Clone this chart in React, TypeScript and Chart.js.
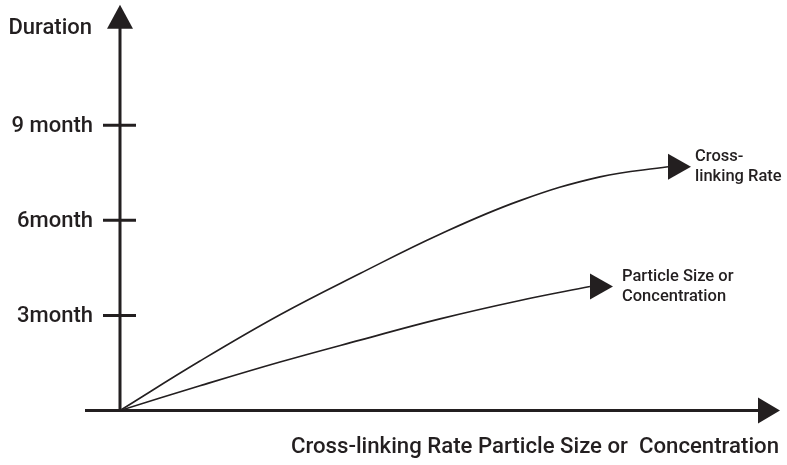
import React, { useEffect, useRef } from "react";
import { Chart, registerables } from "chart.js";

Chart.register(...registerables);

// ---- data ----
const crossLinkX = [0, 1.333, 2.667, 4, 5.333, 6.667, 8, 9.133];
const crossLinkY = [0, 1.56, 3.02, 4.32, 5.56, 6.62, 7.37, 7.69];
const particleX = [0, 1.333, 2.667, 4, 5.333, 6.667, 7.833];
const particleY = [0, 0.78, 1.53, 2.22, 2.89, 3.47, 3.91];
const tickValues = [3, 6, 9];
const tickLabels = ["3month", "6month", "9 month"];
const yTitle = "Duration";
const xTitle = "Cross-linking Rate Particle Size or  Concentration";
const crossLinkLabel = ["Cross-", "linking Rate"];
const particleLabel = ["Particle Size or", "Concentration"];
const X_MAX = 11;
const Y_MAX = 12.8;

const INK = "#231f20";
const FONT = "Roboto, 'Noto Sans', sans-serif";

const schematicPlugin = {
  id: "schematic",
  beforeDatasetsDraw(chart: any) {
    const { ctx } = chart;
    const xs = chart.scales.x;
    const ys = chart.scales.y;
    const x0 = xs.getPixelForValue(0);
    const y0 = ys.getPixelForValue(0);
    const yTop = ys.getPixelForValue(Y_MAX);
    const xRight = xs.getPixelForValue(X_MAX);
    ctx.save();
    ctx.strokeStyle = INK;
    ctx.fillStyle = INK;
    ctx.lineWidth = 3;
    ctx.lineCap = "butt";
    // y axis
    ctx.beginPath();
    ctx.moveTo(x0, y0 + 1.5);
    ctx.lineTo(x0, yTop + 22);
    ctx.stroke();
    ctx.beginPath();
    ctx.moveTo(x0, yTop);
    ctx.lineTo(x0 - 13, yTop + 24);
    ctx.lineTo(x0 + 13, yTop + 24);
    ctx.closePath();
    ctx.fill();
    // x axis
    ctx.beginPath();
    ctx.moveTo(x0 - 35, y0);
    ctx.lineTo(xRight - 20, y0);
    ctx.stroke();
    ctx.beginPath();
    ctx.moveTo(xRight, y0);
    ctx.lineTo(xRight - 22, y0 - 13);
    ctx.lineTo(xRight - 22, y0 + 13);
    ctx.closePath();
    ctx.fill();
    // y ticks
    ctx.font = `500 22px ${FONT}`;
    ctx.textAlign = "right";
    ctx.textBaseline = "middle";
    tickValues.forEach((v, i) => {
      const py = ys.getPixelForValue(v);
      ctx.beginPath();
      ctx.moveTo(x0 - 17, py);
      ctx.lineTo(x0 + 16, py);
      ctx.stroke();
      ctx.fillText(tickLabels[i], x0 - 27, py + 1);
    });
    ctx.fillText(yTitle, x0 - 28, yTop + 24);
    // x title
    ctx.font = `500 22.2px ${FONT}`;
    ctx.fillText(xTitle, xRight - 1, y0 + 37);
    ctx.restore();
  },
  afterDatasetsDraw(chart: any) {
    const { ctx } = chart;
    ctx.save();
    ctx.fillStyle = INK;
    const labels = [crossLinkLabel, particleLabel];
    const gaps = [27, 32];
    chart.data.datasets.forEach((_: any, di: number) => {
      const meta = chart.getDatasetMeta(di);
      const last = meta.data[meta.data.length - 1];
      const px = last.x;
      const py = last.y;
      ctx.beginPath();
      ctx.moveTo(px + 23, py);
      ctx.lineTo(px, py - 13);
      ctx.lineTo(px, py + 13);
      ctx.closePath();
      ctx.fill();
      ctx.font = `500 16.5px ${FONT}`;
      ctx.textAlign = "left";
      ctx.textBaseline = "middle";
      const lines = labels[di];
      ctx.fillText(lines[0], px + gaps[di], py - 10);
      ctx.fillText(lines[1], px + gaps[di], py + 10);
    });
    ctx.restore();
  },
};

export default function App() {
  const ref = useRef<HTMLCanvasElement | null>(null);
  useEffect(() => {
    if (!ref.current) return;
    const chart = new Chart(ref.current, {
      type: "line",
      data: {
        datasets: [
          {
            label: "Cross-linking Rate",
            data: crossLinkX.map((x, i) => ({ x, y: crossLinkY[i] })),
            borderColor: INK,
            borderWidth: 1.6,
            tension: 0.4,
            pointRadius: 0,
            fill: false,
          },
          {
            label: "Particle Size or Concentration",
            data: particleX.map((x, i) => ({ x, y: particleY[i] })),
            borderColor: INK,
            borderWidth: 1.6,
            tension: 0.4,
            pointRadius: 0,
            fill: false,
          },
        ],
      },
      options: {
        responsive: false,
        animation: false,
        layout: { padding: { left: 120, right: 7, top: 4.7, bottom: 54.5 } },
        scales: {
          x: { type: "linear", min: 0, max: X_MAX, display: false },
          y: { type: "linear", min: 0, max: Y_MAX, display: false },
        },
        plugins: {
          legend: { display: false },
          tooltip: { enabled: false },
        },
      },
      plugins: [schematicPlugin],
    } as any);
    return () => chart.destroy();
  }, []);
  return (
    <div
      style={{
        position: "fixed",
        left: 0,
        top: 0,
        width: 787,
        height: 465,
        background: "#fff",
      }}
    >
      <canvas ref={ref} width={787} height={465} />
    </div>
  );
}
